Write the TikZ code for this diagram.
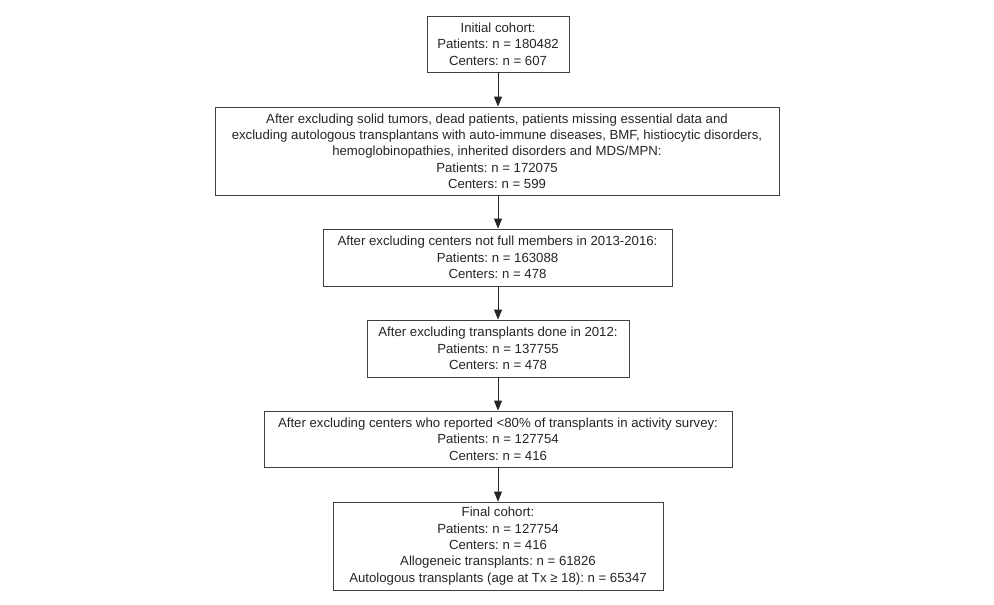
\documentclass[tikz,border=0pt]{standalone}
\usepackage{fontspec}
\setmainfont{Liberation Sans}
\usetikzlibrary{arrows.meta}
\frenchspacing
\begin{document}
\begin{tikzpicture}[x=1pt,y=-1pt,
  box/.style={draw=black!75, line width=0.85pt, fill=white, text=black!85, align=center,
    inner sep=0pt, font=\fontsize{13.2}{16.3}\selectfont},
  conn/.style={draw=black!85, line width=0.85pt, -{Triangle[length=10pt,width=8pt]}}]
\useasboundingbox (0,0) rectangle (994,605);
\fill[white] (0,0) rectangle (994,605);
\node[box, minimum width=142pt, minimum height=56pt] (b1) at (498,44)
  {Initial cohort:\\Patients: n = 180482\\Centers: n = 607};
\node[box, minimum width=564pt, minimum height=88pt] (b2) at (497,151)
  {After excluding solid tumors, dead patients, patients missing essential data and\\
   excluding autologous transplantans with auto-immune diseases, BMF, histiocytic disorders,\\
   hemoglobinopathies, inherited disorders and MDS/MPN:\\
   Patients: n = 172075\\Centers: n = 599};
\node[box, minimum width=349pt, minimum height=57pt] (b3) at (497.5,257.5)
  {After excluding centers not full members in 2013-2016:\\Patients: n = 163088\\Centers: n = 478};
\node[box, minimum width=262pt, minimum height=57pt] (b4) at (498,348.5)
  {After excluding transplants done in 2012:\\Patients: n = 137755\\Centers: n = 478};
\node[box, minimum width=468pt, minimum height=56pt] (b5) at (498,439)
  {After excluding centers who reported <80\% of transplants in activity survey:\\Patients: n = 127754\\Centers: n = 416};
\node[box, minimum width=330pt, minimum height=88pt] (b6) at (498,546)
  {Final cohort:\\Patients: n = 127754\\Centers: n = 416\\Allogeneic transplants: n = 61826\\Autologous transplants (age at Tx ≥ 18): n = 65347};
\draw[conn] (b1.south) -- (b1.south |- b2.north);
\draw[conn] (b2.south -| b1.south) -- (b1.south |- b3.north);
\draw[conn] (b3.south -| b1.south) -- (b1.south |- b4.north);
\draw[conn] (b4.south) -- (b4.south |- b5.north);
\draw[conn] (b5.south) -- (b5.south |- b6.north);
\end{tikzpicture}
\end{document}
